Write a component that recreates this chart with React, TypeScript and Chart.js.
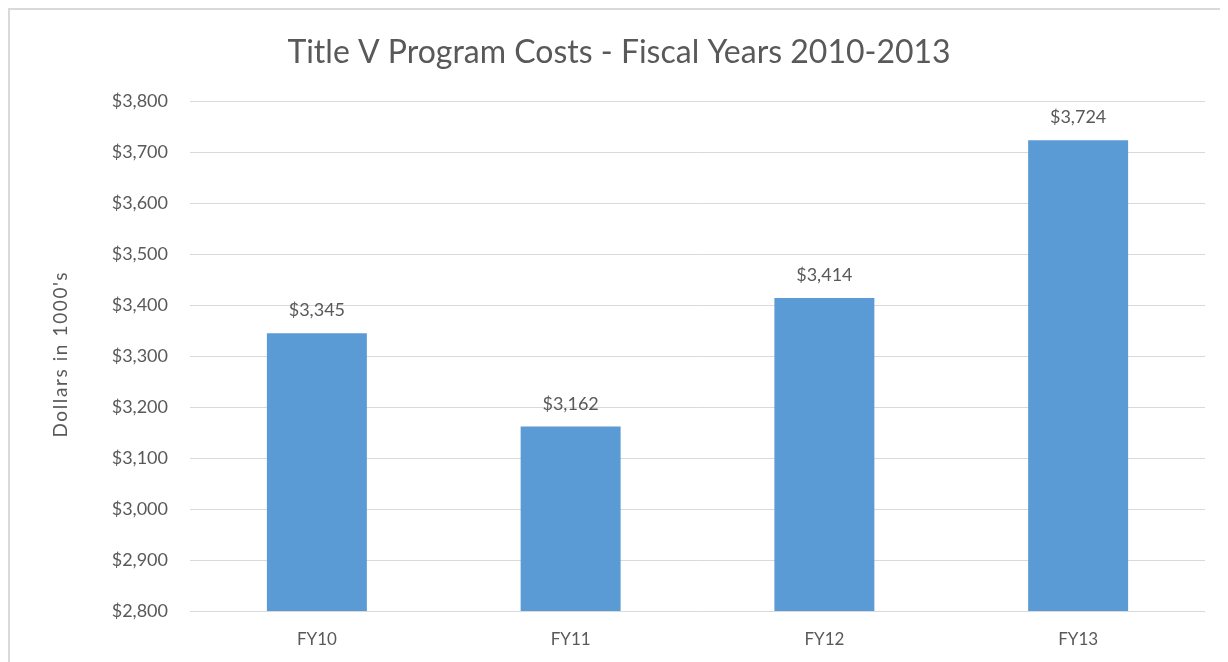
import React, { useEffect, useRef } from "react";
import { Chart, registerables } from "chart.js";

Chart.register(...registerables);

const categories = ["FY10", "FY11", "FY12", "FY13"];
const costs = [3345, 3162, 3414, 3724];
const yMin = 2800;
const yMax = 3800;
const yStep = 100;

const titleText = "Title V Program Costs - Fiscal Years 2010-2013";
const yAxisTitle = "Dollars in 1000's";

const FONT = "Lato, 'Open Sans', sans-serif";
const TEXT = "#595959";
const GRID = "#d9d9d9";
const BAR = "#5B9BD5";

const fmt = (v: number) => "$" + v.toLocaleString("en-US");

const labelPlugin = {
  id: "barLabels",
  afterDatasetsDraw(chart: any) {
    const ctx = chart.ctx;
    const meta = chart.getDatasetMeta(0);
    ctx.save();
    ctx.font = `18px ${FONT}`;
    ctx.fillStyle = TEXT;
    ctx.textAlign = "center";
    ctx.textBaseline = "alphabetic";
    meta.data.forEach((el: any, i: number) => {
      ctx.fillText(fmt(costs[i]), el.x, el.y - 17);
    });
    ctx.restore();
  },
};

const yTitlePlugin = {
  id: "yTitle",
  afterDraw(chart: any) {
    const ctx = chart.ctx;
    const area = chart.chartArea;
    ctx.save();
    ctx.translate(51, (area.top + area.bottom) / 2 - 2);
    ctx.rotate(-Math.PI / 2);
    ctx.font = `19px ${FONT}`;
    (ctx as any).letterSpacing = "1.6px";
    ctx.fillStyle = TEXT;
    ctx.textAlign = "center";
    ctx.textBaseline = "middle";
    ctx.fillText(yAxisTitle, 0, 0);
    ctx.restore();
  },
};

export default function App() {
  const ref = useRef<HTMLCanvasElement | null>(null);
  useEffect(() => {
    if (!ref.current) return;
    const chart = new Chart(ref.current, {
      type: "bar",
      data: {
        labels: categories,
        datasets: [
          {
            data: costs,
            backgroundColor: BAR,
            borderWidth: 0,
            categoryPercentage: 1,
            barPercentage: 0.394,
          },
        ],
      },
      options: {
        animation: false,
        responsive: false,
        maintainAspectRatio: false,
        layout: { padding: { left: 23, right: 23, top: 0, bottom: 0 } },
        plugins: {
          legend: { display: false },
          tooltip: { enabled: false },
          title: {
            display: true,
            text: titleText,
            color: TEXT,
            font: { family: FONT, size: 32, weight: "normal" as any, lineHeight: 1.2 },
            padding: { top: 23, bottom: 30 },
          },
        },
        scales: {
          x: {
            grid: { display: false },
            border: { display: false },
            ticks: { color: TEXT, font: { family: FONT, size: 17 }, padding: 10 },
            afterFit: (s: any) => {
              s.height = 51;
            },
          },
          y: {
            min: yMin,
            max: yMax,
            border: { display: false },
            grid: { color: GRID, lineWidth: 1, drawTicks: false },
            ticks: {
              stepSize: yStep,
              color: TEXT,
              font: { family: FONT, size: 18 },
              padding: 22,
              callback: (v: any) => fmt(Number(v)),
            },
            afterFit: (s: any) => {
              s.width = 157;
            },
          },
        },
      },
      plugins: [labelPlugin, yTitlePlugin],
    });
    return () => chart.destroy();
  }, []);

  return (
    <div
      style={{
        width: 1220,
        height: 654,
        boxSizing: "border-box",
        borderTop: "2px solid #d9d9d9",
        borderLeft: "2px solid #d9d9d9",
        background: "#fff",
        overflow: "hidden",
      }}
    >
      <canvas ref={ref} width={1218} height={652} style={{ display: "block" }} />
    </div>
  );
}
